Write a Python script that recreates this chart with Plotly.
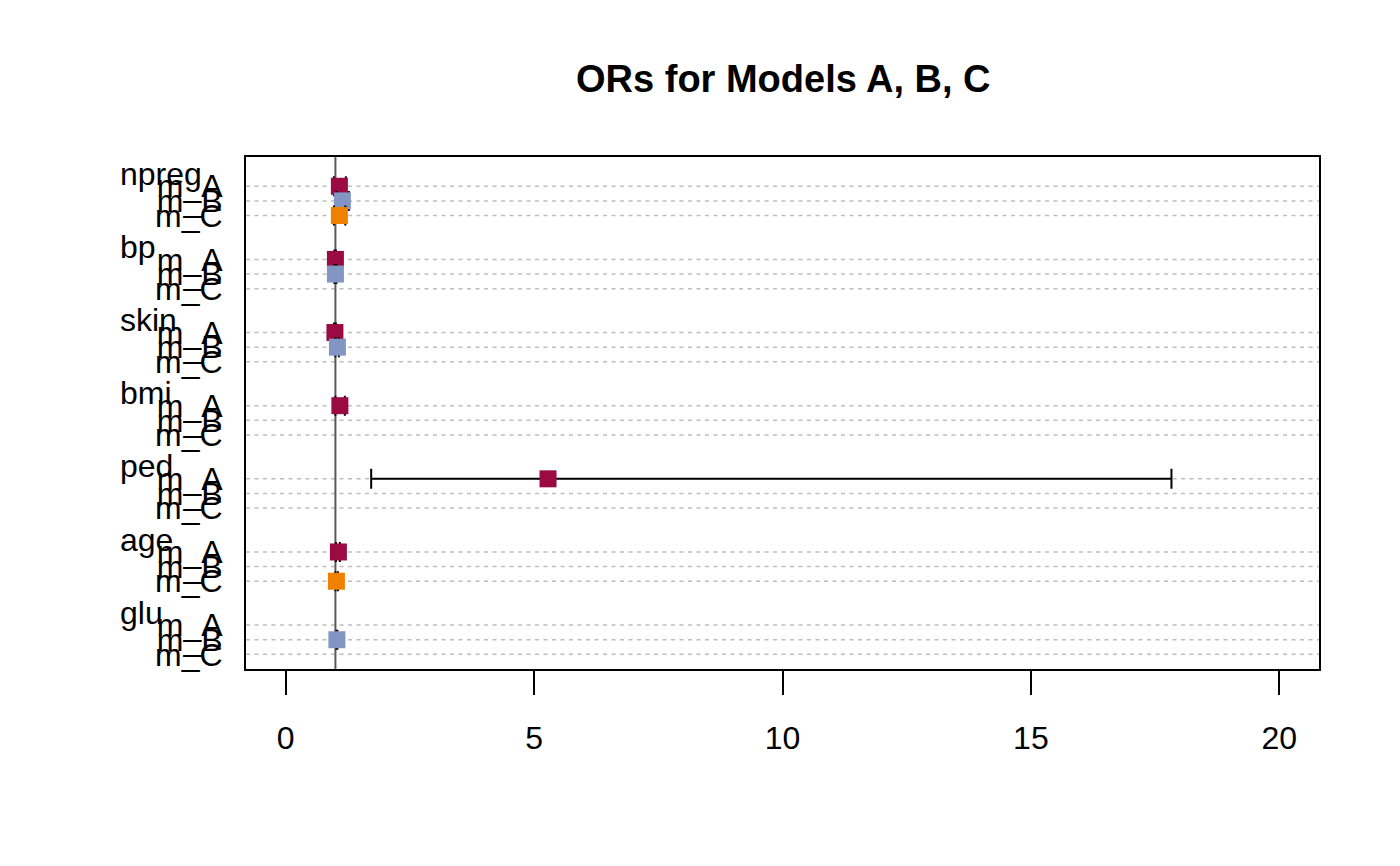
import plotly.graph_objects as go

# ---- data ----
variables = ["npreg", "bp", "skin", "bmi", "ped", "age", "glu"]
models = ["m_A", "m_B", "m_C"]
model_colors = ["#9B0A43", "#8296C4", "#F08100"]

# odds ratios per model (None = variable not in model)
or_A = [1.08, 1.00, 0.99, 1.09, 5.28, 1.06, None]
lo_A = [0.97, 0.98, 0.97, 1.00, 1.72, 1.01, None]
hi_A = [1.21, 1.01, 1.01, 1.19, 17.83, 1.09, None]

or_B = [1.14, 1.00, 1.04, None, None, None, 1.03]
lo_B = [1.02, 0.98, 1.00, None, None, None, 1.02]
hi_B = [1.27, 1.02, 1.07, None, None, None, 1.04]

or_C = [1.08, None, None, None, None, 1.02, None]
lo_C = [0.97, None, None, None, None, 1.00, None]
hi_C = [1.20, None, None, None, None, 1.05, None]

x_ticks = [0, 5, 10, 15, 20]
ref_value = 1
title = "ORs for Models A, B, C"

model_or = [or_A, or_B, or_C]
model_lo = [lo_A, lo_B, lo_C]
model_hi = [hi_A, hi_B, hi_C]

FONT = "Liberation Sans, Arial, Helvetica, sans-serif"
GROUP = 5  # rows per variable block (3 models + 2 spacing)

def row_y(g, m):
    return -(g * GROUP + m)

fig = go.Figure()

# dotted guide lines at every model row
for g in range(len(variables)):
    for m in range(len(models)):
        fig.add_shape(type="line", xref="paper", x0=0, x1=1,
                      yref="y", y0=row_y(g, m), y1=row_y(g, m),
                      line=dict(color="#BEBEBE", width=1.5, dash="4px,4.5px"),
                      layer="below")

# reference line at OR = 1
fig.add_shape(type="line", xref="x", x0=ref_value, x1=ref_value,
              yref="paper", y0=0, y1=1,
              line=dict(color="#595959", width=2), layer="below")

# points with CIs
for m, name in enumerate(models):
    xs, ys, ep, em = [], [], [], []
    for g in range(len(variables)):
        v = model_or[m][g]
        if v is None:
            continue
        xs.append(v)
        ys.append(row_y(g, m))
        ep.append(model_hi[m][g] - v)
        em.append(v - model_lo[m][g])
    fig.add_trace(go.Scatter(
        x=xs, y=ys, mode="markers", name=name, showlegend=False,
        marker=dict(symbol="square", size=17, color=model_colors[m],
                    line=dict(width=0)),
        error_x=dict(type="data", symmetric=False, array=ep, arrayminus=em,
                     color="black", thickness=2, width=10),
    ))

# y tick labels (model names) at each row
tickvals, ticktext = [], []
for g in range(len(variables)):
    for m, name in enumerate(models):
        tickvals.append(row_y(g, m))
        ticktext.append(name)

# variable name labels
for g, v in enumerate(variables):
    fig.add_annotation(text=v, xref="paper", x=-0.1192, xanchor="left",
                       yref="y", y=row_y(g, 0) + 0.85, yanchor="middle",
                       showarrow=False, font=dict(family=FONT, size=32, color="black"))

fig.update_layout(
    width=1400, height=866,
    margin=dict(l=246, r=81, t=157, b=197, pad=0),
    paper_bgcolor="white", plot_bgcolor="white",
    title=dict(text="<b>" + title + "</b>", x=0.5595, xanchor="center",
               y=1 - 79 / 866, yanchor="middle",
               font=dict(family=FONT, size=38, color="black")),
    font=dict(family=FONT, size=32, color="black"),
    xaxis=dict(range=[-0.8, 20.8], tickvals=x_ticks, ticks="outside",
               ticklen=24, tickwidth=2, tickcolor="black",
               showline=True, linecolor="black", linewidth=2, mirror=True,
               showgrid=False, zeroline=False, ticklabelstandoff=16,
               tickfont=dict(family=FONT, size=32)),
    yaxis=dict(range=[-33, 2], tickvals=tickvals, ticktext=ticktext,
               ticks="", showline=True, linecolor="black", linewidth=2,
               mirror=True, showgrid=False, zeroline=False,
               ticklabelstandoff=15, tickfont=dict(family=FONT, size=32)),
)

fig.write_html("out.html")
